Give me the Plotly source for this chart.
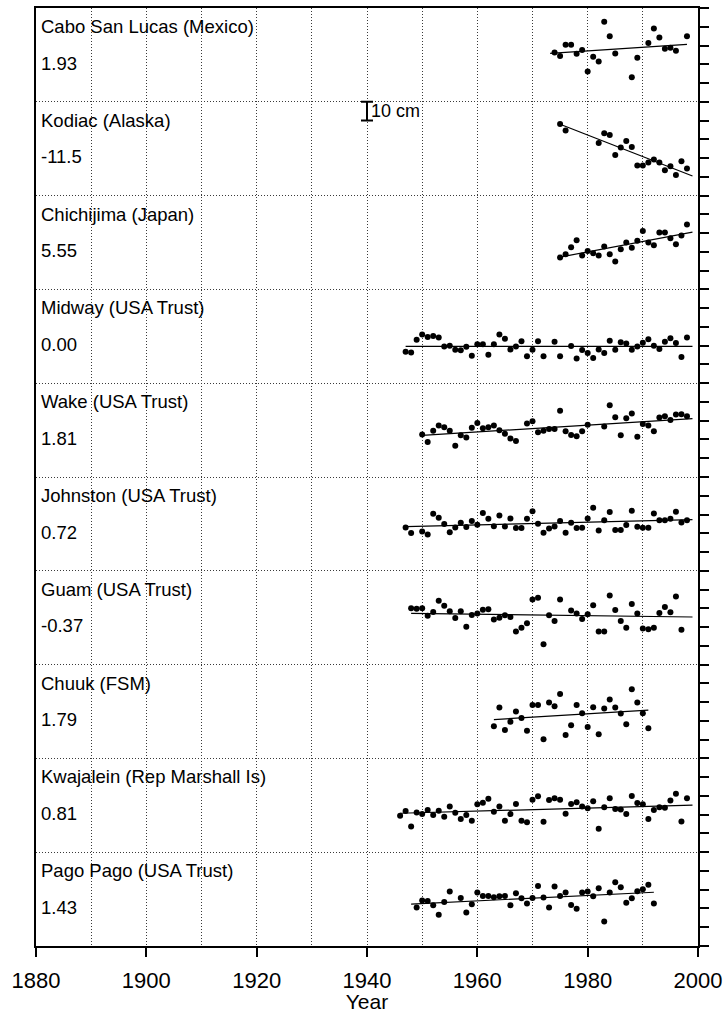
import plotly.graph_objects as go

# ---------------- data ----------------
stations = ["Cabo San Lucas (Mexico)", "Kodiac (Alaska)", "Chichijima (Japan)",
            "Midway (USA Trust)", "Wake (USA Trust)", "Johnston (USA Trust)",
            "Guam (USA Trust)", "Chuuk (FSM)", "Kwajalein (Rep Marshall Is)",
            "Pago Pago (USA Trust)"]
trend_labels = ["1.93", "-11.5", "5.55", "0.00", "1.81", "0.72", "-0.37", "1.79", "0.81", "1.43"]
trend_mm_per_yr = [1.93, -11.5, 5.55, 0.00, 1.81, 0.72, -0.37, 1.79, 0.81, 1.43]
trend_start = [1973.2, 1975, 1975, 1947, 1950, 1947, 1948, 1963, 1946, 1948]
trend_end = [1998, 1999, 1999, 1999, 1999, 1999, 1999, 1991, 1999, 1992]

cabo_years = [1974, 1975, 1976, 1977, 1978, 1979, 1980, 1981, 1982, 1983, 1984, 1985,
              1988, 1989, 1991, 1992, 1993, 1994, 1995, 1996, 1998]
cabo_cm = [1.3, -0.6, 5.4, 5.4, 0.6, 2.6, -8.8, -1.0, -3.5, 17.7, 9.9, 0.8,
           -11.9, -1.5, 6.3, 14.1, 9.3, 3.3, 3.8, 2.2, 9.9]

kodiak_years = [1975, 1976, 1982, 1983, 1984, 1985, 1986, 1987, 1988, 1989, 1990,
                1991, 1992, 1993, 1994, 1995, 1996, 1997, 1998]
kodiak_cm = [13.2, 9.7, 3.1, 8.2, 7.3, -3.3, 0.6, 4.1, 0.9, -9.0, -9.0,
             -7.3, -5.7, -7.3, -11.5, -9.4, -14.0, -6.7, -10.5]

chichi_years = list(range(1975, 1999))
chichi_cm = [-8.0, -6.2, -2.5, 1.2, -6.9, -4.5, -5.7, -6.9, -2.1, -6.2, -10.1, -3.6,
             0.0, -2.8, 0.9, 6.1, 0.0, -1.4, 5.3, 5.3, 2.3, -0.9, 3.7, 9.6]

midway_years = list(range(1947, 1973)) + [1974, 1975] + list(range(1977, 1999))
midway_cm = [-8.2, -8.6, -1.8, 1.0, -0.4, 0.1, -0.6, -5.4, -5.0, -7.2, -7.5, -5.6, -10.4,
             -4.3, -4.3, -9.8, -4.3, 1.0, -1.3, -7.0, -5.4, -2.7, -10.7, -7.2, -2.7, -10.7,
             -2.9, -10.7,
             -5.2, -11.8, -7.3, -8.9, -11.6, -7.0, -8.9, -2.4, -7.2, -3.2, -3.8, -7.2,
             -5.4, -3.4, -1.6, -5.0, -6.8, -2.9, -1.1, -3.6, -11.1, -0.6]

wake_years = list(range(1950, 1968)) + list(range(1969, 1981)) + list(range(1983, 1999))
wake_cm = [-2.4, -6.3, -0.4, 2.4, 1.5, -0.4, -8.4, -2.7, -4.0, 1.2, 3.8, 1.0, 1.5, 2.4,
           -0.1, -2.0, -4.5, -5.8,
           3.5, 4.7, -1.1, -0.4, 0.6, 0.6, 10.3, -0.6, -2.6, -3.3, -0.6, 2.8,
           1.9, 13.3, 6.9, -2.7, 6.3, 8.8, -3.6, 3.3, 2.4, -0.6, 6.7, 7.4, 5.4, 8.3, 8.5, 7.4]

johnston_years = [1947, 1948] + list(range(1950, 1999))
johnston_cm = [-1.9, -4.9,
               -4.0, -5.6, 5.4, 3.3, -0.1, -4.4, -1.9, 0.6, -1.7, 1.5, -0.5, 5.8, 2.7,
               -1.2, 4.5, -1.4, 2.9, -2.2, -2.2, 2.7, 6.7, 0.1, -4.7, -2.4, -1.4, 1.5,
               -4.7, 0.6, -2.2, -2.1, 2.9, 8.6, -3.5, 2.0, 6.3, -3.3, -3.3, -0.6, 7.0,
               -1.5, -2.1, -2.1, 5.6, 2.0, 2.0, 2.7, 6.5, 0.8, 2.0]

guam_years = list(range(1948, 1976)) + list(range(1977, 1998))
guam_cm = [5.0, 4.8, 5.0, 1.1, 3.1, 9.1, 6.4, 3.4, -0.1, 3.4, -4.8, 1.5, 2.2, 4.3, 4.5,
           -0.9, 0.0, 1.3, 0.4, -7.4, -5.3, -3.0, 9.7, 10.7, -14.1, 1.3, -1.7, 9.7,
           3.8, 2.2, -0.7, 1.8, 6.6, -7.3, -7.3, 11.9, 4.1, -1.7, -5.3, 7.3, 2.2, -5.7,
           -6.1, -5.3, 2.5, 5.7, 2.9, 11.3, -6.4]

chuuk_years = list(range(1963, 1992))
chuuk_cm = [-7.8, 2.1, -9.8, -5.5, 0.0, -3.4, -10.3, 3.4, 3.4, -14.8, 4.8, 2.8, 9.3,
            -12.5, -7.3, 3.4, -0.9, -8.2, 2.3, -12.1, 1.6, 6.4, 2.1, -1.1, -6.8, 11.8,
            4.8, -0.9, -8.9]

kwaj_years = list(range(1946, 1999))
kwaj_cm = [-5.6, -3.1, -11.3, -3.8, -4.7, -2.5, -5.2, -2.9, -6.1, -0.6, -4.0, -7.3, -5.2,
           -8.2, 0.5, 1.4, 3.5, -3.4, -0.6, -8.2, -4.7, 0.7, -8.2, -9.1, 3.0, 4.8, -8.8,
           2.8, 3.7, 3.0, -4.5, 0.7, 1.6, -0.7, -1.6, 2.1, -12.5, -1.1, 3.7, -2.0, -2.2,
           -4.7, 5.0, 1.2, 0.5, -7.3, -2.5, -1.1, -1.3, 2.5, 6.2, -8.6, 3.7]

pago_years = list(range(1949, 1956)) + list(range(1957, 1993))
pago_cm = [-4.5, -0.8, -1.0, -3.3, -8.3, -1.5, 4.0,
           0.6, -7.2, -2.7, 3.5, 1.7, 1.7, 1.0, 1.5, 1.7, -3.3, 3.1, 0.5, -2.4, 0.6,
           7.0, 0.8, -4.5, 6.7, 1.7, 3.5, -3.1, -5.2, 3.5, 4.0, 1.5, 5.8, -12.0, 3.5,
           9.0, 6.3, -2.0, 0.5, 4.2, 5.3, 7.6, -2.4]

all_years = [cabo_years, kodiak_years, chichi_years, midway_years, wake_years,
             johnston_years, guam_years, chuuk_years, kwaj_years, pago_years]
all_cm = [cabo_cm, kodiak_cm, chichi_cm, midway_cm, wake_cm,
          johnston_cm, guam_cm, chuuk_cm, kwaj_cm, pago_cm]

x_ticks = [1880, 1900, 1920, 1940, 1960, 1980, 2000]
scale_bar_year = 1940
scale_bar_cm = 10

# ---------------- layout constants ----------------
PANEL = 50.0            # cm per panel
N = len(stations)
TOP = PANEL * N
FONT = "Liberation Sans, Arial, Helvetica, sans-serif"
GRID = "#3a3a3a"
DOTS = "1px,2px"

fig = go.Figure()
annotations = []
for k in range(N):
    base = TOP - PANEL * k - PANEL / 2
    yrs, vals = all_years[k], all_cm[k]
    fig.add_trace(go.Scatter(
        x=yrs, y=[base + v for v in vals], mode="markers",
        marker=dict(size=6, color="black"), hoverinfo="skip"))
    # trend line: least-squares line passes through the data mean with the labelled slope
    mx = sum(yrs) / len(yrs)
    my = sum(vals) / len(vals)
    s = trend_mm_per_yr[k] / 10.0
    xs = [trend_start[k], trend_end[k]]
    fig.add_trace(go.Scatter(
        x=xs, y=[base + my + s * (xx - mx) for xx in xs], mode="lines",
        line=dict(color="black", width=1.2), hoverinfo="skip"))
    ptop = TOP - PANEL * k
    annotations.append(dict(x=0, xref="paper", y=ptop, yref="y", text=stations[k],
                            xanchor="left", yanchor="middle", xshift=3, yshift=-18.5,
                            showarrow=False, font=dict(size=18.5, color="black", family=FONT)))
    annotations.append(dict(x=0, xref="paper", y=ptop, yref="y", text=trend_labels[k],
                            xanchor="left", yanchor="middle", xshift=3, yshift=-55,
                            showarrow=False, font=dict(size=18.5, color="black", family=FONT)))

# scale bar (10 cm) just below the first panel boundary
sb_center = TOP - PANEL - scale_bar_cm / 2
fig.add_trace(go.Scatter(
    x=[scale_bar_year], y=[sb_center], mode="markers",
    marker=dict(size=1, color="rgba(0,0,0,0)"),
    error_y=dict(type="data", array=[scale_bar_cm / 2], symmetric=True,
                 width=6, thickness=2, color="black"),
    hoverinfo="skip"))
annotations.append(dict(x=scale_bar_year, y=sb_center, xref="x", yref="y",
                        text="10 cm", xanchor="left", yanchor="middle", xshift=2,
                        showarrow=False, font=dict(size=18, color="black", family=FONT)))

fig.update_layout(
    width=728, height=1013,
    margin=dict(l=36, r=30, t=8, b=67, autoexpand=False),
    paper_bgcolor="white", plot_bgcolor="white",
    showlegend=False,
    annotations=annotations,
    font=dict(family=FONT, color="black"),
)
fig.update_xaxes(
    range=[1880, 2000], tickvals=x_ticks, ticks="outside", ticklen=9, tickwidth=1.5,
    tickcolor="black", showline=True, linewidth=1.5, linecolor="black", mirror=True,
    showgrid=True, gridcolor=GRID, griddash=DOTS, gridwidth=1, zeroline=False,
    minor=dict(dtick=10, showgrid=True, gridcolor=GRID, griddash=DOTS, gridwidth=1, ticks=""),
    tickfont=dict(size=22, family=FONT, color="black"), ticklabelstandoff=5,
    title=dict(text="Year", font=dict(size=21, family=FONT, color="black"), standoff=4),
    automargin=False,
)
fig.update_yaxes(
    range=[0, TOP], side="right", dtick=PANEL, tick0=0, ticks="outside", ticklen=9,
    tickwidth=1.5, tickcolor="black", showticklabels=False,
    showline=True, linewidth=2, linecolor="black", mirror=True,
    showgrid=True, gridcolor=GRID, griddash=DOTS, gridwidth=1, zeroline=False,
    minor=dict(dtick=10, tick0=0, ticks="outside", ticklen=9, tickwidth=1.5,
               tickcolor="black", showgrid=False),
    automargin=False,
)

# the page's default body margin would shift the fixed-size figure; remove it
fig.write_html("out.html", config={"displayModeBar": False},
               post_script="document.body.style.margin='0';")
